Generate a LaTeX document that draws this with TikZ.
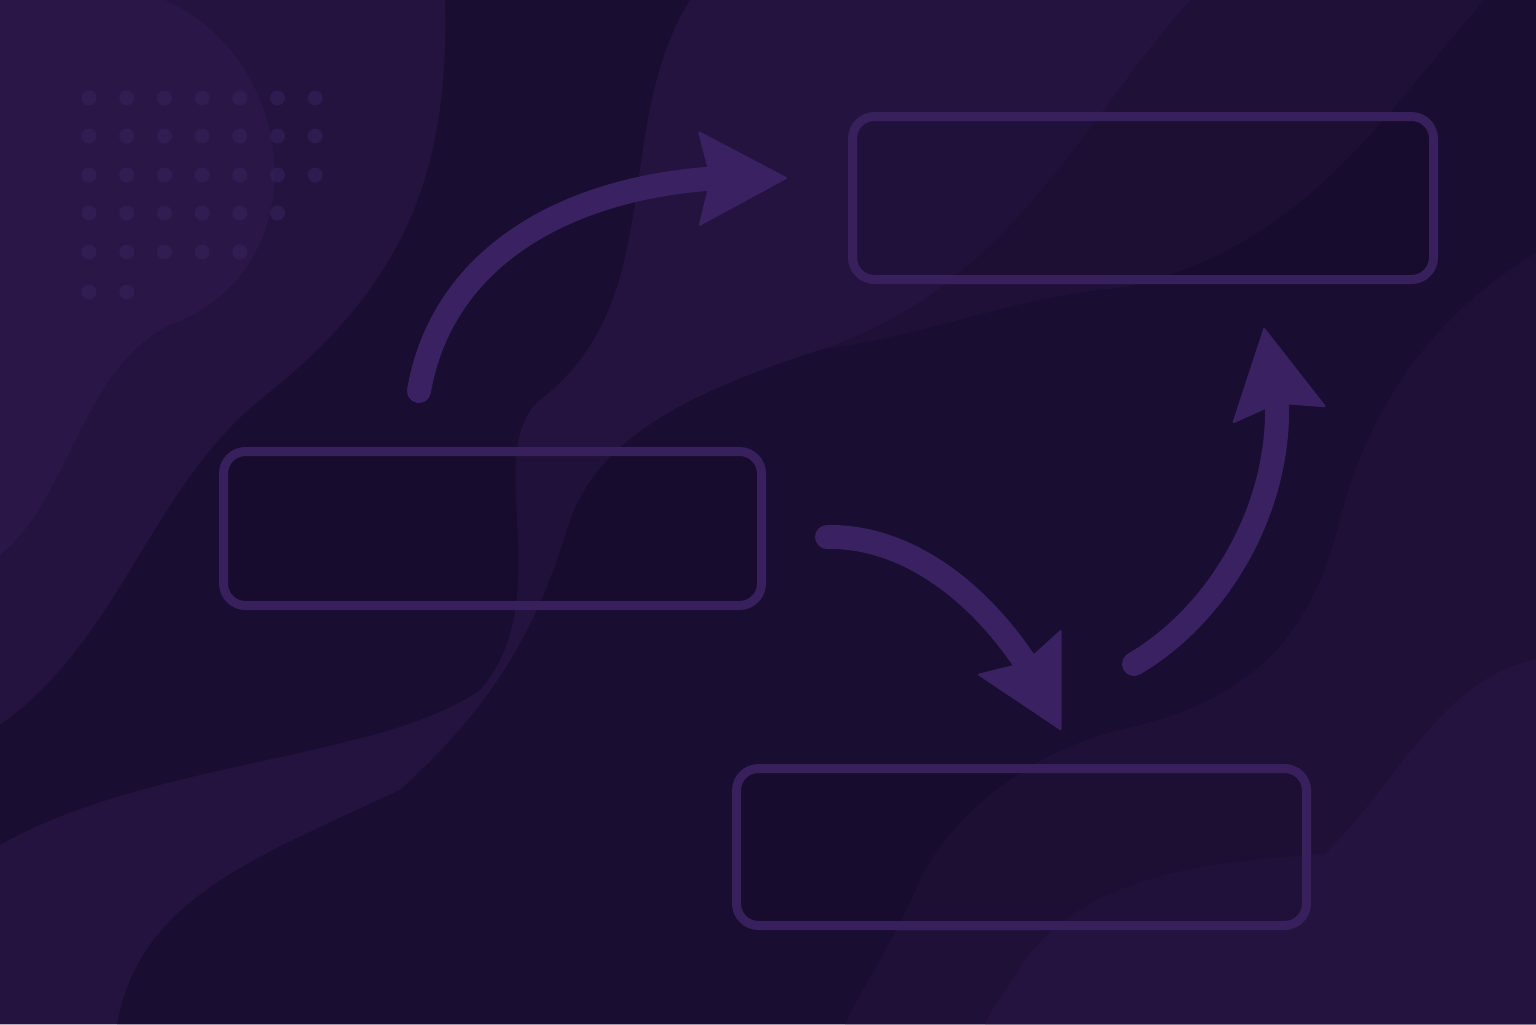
\documentclass[tikz,border=0pt]{standalone}
\usetikzlibrary{arrows.meta,bending}

\definecolor{bgdark}{HTML}{190D31}
\definecolor{bgmid}{HTML}{1F1038}
\definecolor{bglight}{HTML}{23133E}
\definecolor{bglighter}{HTML}{2A1747}
\definecolor{boxline}{HTML}{38205D}
\definecolor{flow}{HTML}{3A2161}
\definecolor{dotcol}{HTML}{3A2460}

\tikzset{
  panel/.style={draw=boxline,line width=4.5pt,rounded corners=11pt,fill=black,fill opacity=0.06,text opacity=1},
  flowarrow/.style={draw=flow,line width=12pt,line cap=round,
    -{Stealth[length=45pt,width=48pt,inset=6pt,line width=1pt,round]}},
  dot/.style={fill=dotcol,fill opacity=0.5}
}

\begin{document}
\begin{tikzpicture}[x=0.5pt,y=-0.5pt]
  \useasboundingbox (0,0) rectangle (1536,1024);

  % background waves
  \fill[bglighter] (0,0) rectangle (1536,1024);
  \fill[bglight] (165,0) .. controls (300,60) and (320,270) .. (170,325)
    .. controls (80,370) and (70,500) .. (0,555) -- (0,1024) -- (1536,1024) -- (1536,0) -- cycle;
  \fill[bgdark] (445,0) .. controls (450,180) and (400,290) .. (260,400)
    .. controls (150,490) and (120,640) .. (0,725) -- (0,1024) -- (1536,1024) -- (1536,0) -- cycle;
  \fill[bglight] (690,0) .. controls (610,130) and (670,300) .. (540,400)
    .. controls (480,450) and (560,600) .. (480,690)
    .. controls (380,760) and (150,760) .. (0,845) -- (0,1024) -- (1536,1024) -- (1536,0) -- cycle;
  \fill[bgdark] (1191,0) .. controls (1090,110) and (1010,290) .. (820,350)
    .. controls (680,395) and (600,440) .. (570,520)
    .. controls (540,620) and (500,700) .. (400,790)
    .. controls (250,860) and (140,900) .. (117,1024) -- (1536,1024) -- (1536,0) -- cycle;
  \fill[bgmid] (1191,0) .. controls (1090,110) and (1010,290) .. (820,350)
    .. controls (950,330) and (1000,300) .. (1124,287)
    .. controls (1300,250) and (1380,120) .. (1484,0) -- cycle;
  \fill[bgmid] (1536,253) .. controls (1440,310) and (1370,400) .. (1340,520)
    .. controls (1310,640) and (1250,700) .. (1124,729)
    .. controls (1050,745) and (960,800) .. (920,880)
    .. controls (890,950) and (860,990) .. (845,1024) -- (1536,1024) -- cycle;
  \fill[bglight] (1536,659) .. controls (1440,680) and (1400,780) .. (1324,855)
    .. controls (1200,860) and (1080,880) .. (1024,962)
    .. controls (1000,1000) and (990,1010) .. (985,1024) -- (1536,1024) -- cycle;

  % dot grid
  \foreach \y/\n in {98/7,136/7,175/7,213/6,252/5,292/2}
    \foreach \i in {1,...,\n}
      \fill[dot] ({51.3+37.7*\i},\y) circle (7.5);

  % boxes
  \node[panel,minimum width=290.5pt,minimum height=81.5pt] (T) at (1143,198) {};
  \node[panel,minimum width=269pt,minimum height=77pt] (L) at (492.5,528.5) {};
  \node[panel,minimum width=285pt,minimum height=78.5pt] (B) at (1021.5,847) {};

  % arrow ends
  \coordinate (s1) at (419,391);
  \coordinate (e1) at (787,178);
  \coordinate (s2) at (827,537);
  \coordinate (e2) at (1061,730);
  \coordinate (s3) at (1134,664);
  \coordinate (e3) at (1264,328);

  \draw[flowarrow] (s1) .. controls (445,240) and (600,168) .. (e1);
  \draw[flowarrow] (s2) .. controls (930,535) and (1020,630) .. (e2);
  \draw[flowarrow] (s3) .. controls (1235,605) and (1308,462) .. (e3);
\end{tikzpicture}
\end{document}
